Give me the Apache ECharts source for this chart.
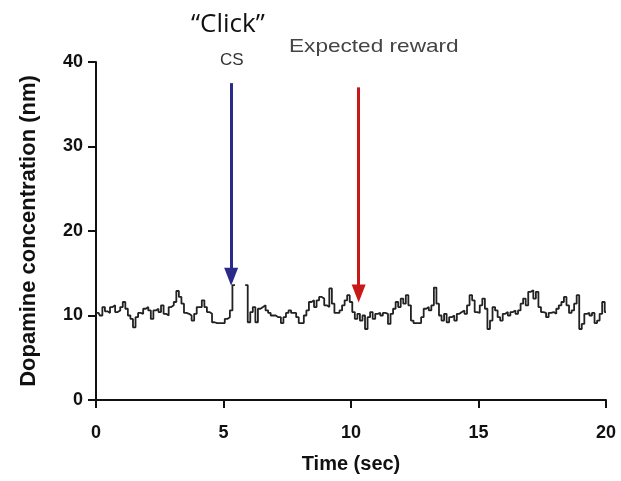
<!DOCTYPE html>
<html>
<head>
<meta charset="utf-8">
<script src="https://cdn.jsdelivr.net/npm/echarts@6/dist/echarts.min.js"></script>
<style>html,body{margin:0;padding:0;background:#fff}#c{width:621px;height:481px}</style>
</head>
<body>
<div id="c"></div>
<script>
// Sampling interval of the trace (seconds)
var dt = 0.1;
// Dopamine concentration (nM), one value per 0.1 s from t = 0 to 20 s; null = gap
var concentration = [
10.3,10.3,10.0,11.0,10.5,10.3,11.0,11.2,10.4,10.6,
11.0,11.6,10.8,10.0,9.6,8.6,9.8,10.3,10.2,10.8,
11.0,10.6,9.6,10.6,10.8,10.4,11.2,10.2,10.0,11.0,
11.2,11.6,12.9,12.2,11.4,10.3,10.2,10.0,9.4,10.2,
11.0,11.0,11.8,11.0,10.4,10.2,9.2,9.1,9.1,9.1,
9.1,9.6,9.8,10.6,13.6,null,null,null,null,13.6,
9.2,10.4,11.0,9.2,10.8,11.0,11.2,10.6,10.3,10.0,
10.0,9.8,9.8,9.1,9.8,10.3,10.6,10.3,10.3,9.8,
9.1,9.1,10.0,10.6,11.6,11.8,11.0,11.8,12.2,12.0,
11.2,11.0,13.2,11.4,10.3,10.3,10.6,11.2,11.8,12.4,
11.6,10.4,9.6,10.2,9.4,10.0,8.4,9.8,10.4,9.6,
10.2,10.3,10.0,10.3,10.2,9.0,10.2,10.8,11.6,11.0,
12.0,11.4,12.4,11.2,9.4,9.1,9.1,9.1,9.8,10.8,
11.0,10.6,11.2,13.3,11.4,10.0,9.4,10.2,9.2,9.8,
10.0,9.4,10.2,10.4,10.6,10.2,11.2,12.4,11.8,10.4,
10.3,11.2,12.0,10.8,8.4,9.4,11.0,10.6,9.8,9.4,
10.2,10.4,10.0,10.4,10.6,10.2,10.6,11.4,12.0,11.2,
12.8,13.0,12.0,12.8,11.0,10.4,10.3,9.8,10.3,10.4,
10.2,10.8,11.2,11.6,12.2,11.2,10.3,10.6,11.4,12.4,
8.4,9.0,10.2,10.3,10.0,10.3,9.1,9.4,10.2,11.6,
10.4
];
// Event annotations: time (s), arrow top/bottom (nM)
var csTime = 5.3, csArrow = [37.5, 14.6];
var rewardTime = 10.3, rewardArrow = [37.0, 12.6];
var xTicks = [0, 5, 10, 15, 20];
var yTicks = [0, 10, 20, 30, 40];

var traceData = concentration.map(function (v, i) { return [+(i * dt).toFixed(1), v]; });

var chart = echarts.init(document.getElementById('c'), null, {renderer: 'canvas'});
var axisFont = {fontFamily: 'Liberation Sans, Arial, sans-serif', fontWeight: 'bold', fontSize: 18, color: '#111'};
chart.setOption({
  animation: false,
  backgroundColor: '#fff',
  grid: {left: 96, right: 15, top: 62, bottom: 81},
  xAxis: {
    type: 'value', min: xTicks[0], max: xTicks[xTicks.length - 1], interval: 5,
    name: 'Time (sec)', nameLocation: 'middle', nameGap: 54,
    nameTextStyle: {fontFamily: 'Liberation Sans, Arial, sans-serif', fontWeight: 'bold', fontSize: 20, color: '#111'},
    axisLine: {show: true, onZero: false, lineStyle: {color: '#111', width: 2}},
    axisTick: {show: true, length: 8, lineStyle: {color: '#111', width: 2}},
    axisLabel: Object.assign({margin: 24}, axisFont),
    splitLine: {show: false}
  },
  yAxis: {
    type: 'value', min: yTicks[0], max: yTicks[yTicks.length - 1], interval: 10,
    name: 'Dopamine concentration (nm)', nameLocation: 'middle', nameGap: 56, nameRotate: 90,
    nameTextStyle: {fontFamily: 'Liberation Sans, Arial, sans-serif', fontWeight: 'bold', fontSize: 22, color: '#111'},
    axisLine: {show: true, lineStyle: {color: '#111', width: 2}},
    axisTick: {show: true, length: 8, lineStyle: {color: '#111', width: 2}},
    axisLabel: Object.assign({margin: 13}, axisFont),
    splitLine: {show: false}
  },
  series: [{
    type: 'line',
    step: 'middle',
    data: traceData,
    showSymbol: false,
    connectNulls: false,
    lineStyle: {color: '#222', width: 1.8},
    markLine: {
      silent: true,
      symbol: ['none', 'triangle'],
      symbolSize: [14, 18],
      label: {show: false},
      data: [
        [{coord: [csTime, csArrow[0]], lineStyle: {color: '#2a2a8a', width: 3, type: 'solid'}, itemStyle: {color: '#2a2a8a'}},
         {coord: [csTime, csArrow[1]]}],
        [{coord: [rewardTime, rewardArrow[0]], lineStyle: {color: '#c81818', width: 3, type: 'solid'}, itemStyle: {color: '#c81818'}},
         {coord: [rewardTime, rewardArrow[1]]}]
      ]
    }
  }],
  graphic: [
    {type: 'text', left: 191, top: 12, style: {text: '\u201CClick\u201D', font: '26px "Open Sans", "Noto Sans", sans-serif', fill: '#111'}},
    {type: 'text', left: 220, top: 52, style: {text: 'CS', font: '17px "Liberation Sans", Arial, sans-serif', fill: '#333'}},
    {type: 'text', x: 289, y: 37, scaleX: 1.19, style: {text: 'Expected reward', font: '19px "Liberation Sans", Arial, sans-serif', fill: '#444'}}
  ]
});
</script>
</body>
</html>
